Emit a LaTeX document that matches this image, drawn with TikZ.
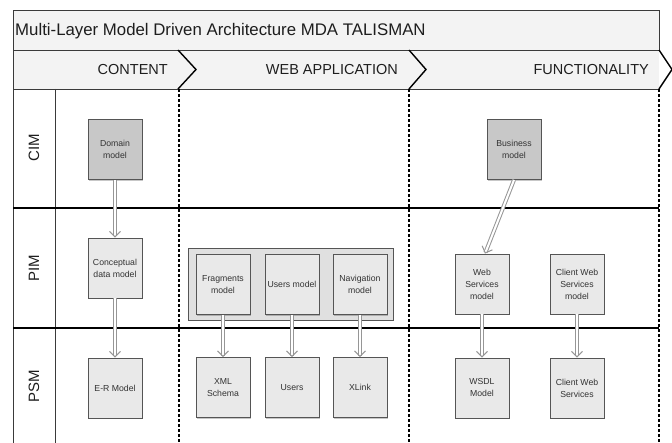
\documentclass[tikz,border=0pt]{standalone}
\usepackage{fontspec}
\setmainfont{Liberation Sans}
\usetikzlibrary{arrows.meta,calc,shadows}
\definecolor{txt}{HTML}{1E1E1E}
\definecolor{frame}{HTML}{3A3A3A}
\definecolor{titlebg}{HTML}{F3F3F3}
\definecolor{boxborder}{HTML}{555555}
\definecolor{boxtext}{HTML}{333333}
\definecolor{cimfill}{HTML}{C8C8C8}
\definecolor{boxfill}{HTML}{E9E9E9}
\definecolor{grpfill}{HTML}{E0E0E0}
\definecolor{arrcol}{HTML}{969696}
\tikzset{
  mbox/.style={draw=boxborder, line width=0.8pt, fill=boxfill, minimum width=54pt, minimum height=60pt,
    inner sep=1pt, align=center, text=boxtext, font=\fontsize{8.7}{12}\selectfont,
    drop shadow={shadow xshift=1.2pt, shadow yshift=-1.2pt, fill=black, opacity=0.22}},
  cimbox/.style={mbox, fill=cimfill},
  grpbox/.style={draw=boxborder, line width=0.8pt, fill=grpfill, minimum width=205pt, minimum height=72pt,
    inner sep=0pt, drop shadow={shadow xshift=1.2pt, shadow yshift=-1.2pt, fill=black, opacity=0.22}},
  arr/.style={draw=arrcol, line width=1pt, double=white, double distance=2pt,
    -{Straight Barb[length=5.5pt, width=11pt]}},
  dashline/.style={draw=black, line width=1.8pt, dash pattern=on 3pt off 2pt},
  rowline/.style={draw=black, line width=1.2pt},
  chev/.style={draw=black, line width=1.4pt},
  headtext/.style={anchor=base east, inner sep=0pt, text=txt, font=\fontsize{14.5}{16}\selectfont},
  lanelabel/.style={rotate=90, inner sep=0pt, text=txt, font=\fontsize{15}{17}\selectfont},
}
\begin{document}
\begin{tikzpicture}[x=1pt,y=-1pt]
\useasboundingbox (0,0) rectangle (672,443);
% title row
\draw[fill=titlebg, draw=frame, line width=0.9pt] (13,10) rectangle (659,50);
\node[anchor=base west, inner sep=0pt, text=txt, font=\fontsize{16.8}{18}\selectfont] (title) at (15,36)
  {Multi-Layer Model Driven Architecture MDA TALISMAN};
% header row
\fill[titlebg] (13,50) rectangle (659,89);
\draw[frame, line width=0.9pt] (13,50) -- (659,50) (13,89) -- (659,89) (13,50) -- (13,89);
\draw[chev] (178,50) -- (196,69.5) -- (178,89);
\draw[chev] (409,50) -- (426,69.5) -- (409,89);
\draw[chev] (659,50) -- (672,69.5) -- (659,89);
\node[headtext] (hcontent) at (168,75) {CONTENT};
\node[headtext] (hweb) at (398,75) {WEB APPLICATION};
\node[headtext] (hfunc) at (649,75) {FUNCTIONALITY};
% lanes
\draw[frame, line width=1pt] (13,89) -- (13,443) (55,89) -- (55,443);
\draw[rowline] (13,208) -- (659,208);
\draw[rowline] (13,328) -- (659,328);
\draw[dashline] (179,89) -- (179,443);
\draw[dashline] (409,89) -- (409,443);
\draw[dashline] (659,89) -- (659,443);
\node[lanelabel] (cim) at (34,148) {CIM};
\node[lanelabel] (pim) at (34,268) {PIM};
\node[lanelabel] (psm) at (34,386) {PSM};
% CIM
\node[cimbox] (domain) at (115,149.5) {Domain\\model};
\node[cimbox] (business) at (514,149.5) {Business\\model};
% PIM
\node[mbox] (conceptual) at (115,268) {Conceptual\\data model};
\node[grpbox] (grp) at (290.5,284) {};
\node[mbox] (fragments) at (223,284.5) {Fragments\\model};
\node[mbox] (usersmodel) at (292,284.5) {Users model};
\node[mbox] (navigation) at (360,284.5) {Navigation\\model};
\node[mbox] (ws) at (482,284) {Web\\Services\\model};
\node[mbox] (clientwsm) at (577,284) {Client Web\\Services\\model};
% PSM
\node[mbox] (er) at (115,388) {E-R Model};
\node[mbox] (xml) at (223,387.5) {XML\\Schema};
\node[mbox] (users) at (292,387.5) {Users};
\node[mbox] (xlink) at (360,387.5) {XLink};
\node[mbox] (wsdl) at (482,388) {WSDL\\Model};
\node[mbox] (cws) at (577,388) {Client Web\\Services};
% arrows
\draw[arr] (domain.south) -- (conceptual.north);
\draw[arr] (conceptual.south) -- (er.north);
\draw[arr] (fragments.south) -- (xml.north);
\draw[arr] (usersmodel.south) -- (users.north);
\draw[arr] (navigation.south) -- (xlink.north);
\draw[arr] (business.south) -- ($(ws.north)+(3,0)$);
\draw[arr] (ws.south) -- (wsdl.north);
\draw[arr] (clientwsm.south) -- (cws.north);
\end{tikzpicture}
\end{document}
